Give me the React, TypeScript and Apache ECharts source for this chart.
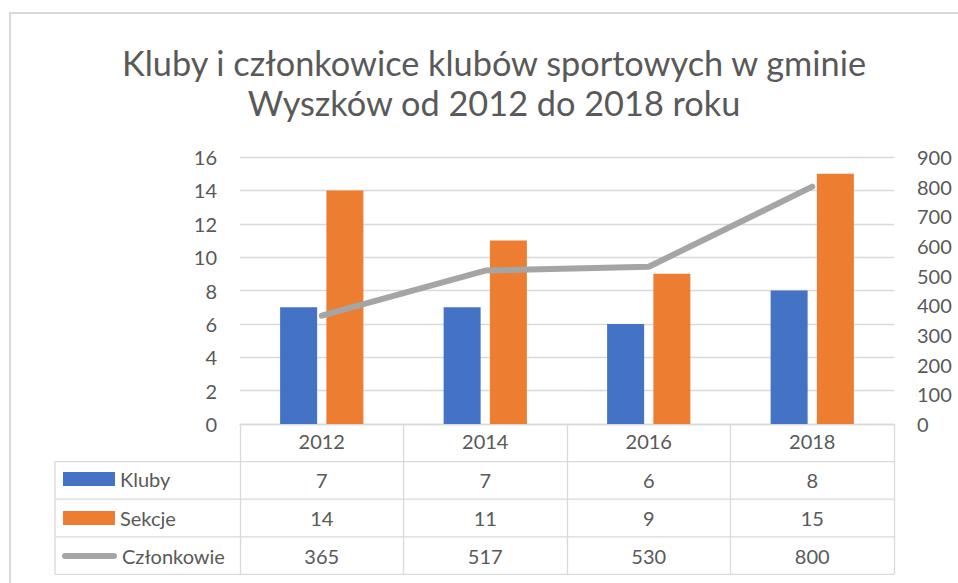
import React, { useEffect, useRef } from 'react';
import * as echarts from 'echarts';

const titleText = 'Kluby i członkowice klubów sportowych w gminie\nWyszków od 2012 do 2018 roku';
const categories = ['2012', '2014', '2016', '2018'];
const kluby = [7, 7, 6, 8];
const sekcje = [14, 11, 9, 15];
const czlonkowie = [365, 517, 530, 800];
const seriesNames = ['Kluby', 'Sekcje', 'Członkowie'];

const TEXT = '#595959';
const GRID_C = '#D9D9D9';
const FONT = 'Lato';

export default function App() {
  const ref = useRef<HTMLDivElement>(null);
  useEffect(() => {
    document.body.style.margin = '0';
    const chart = echarts.init(ref.current!, null, { renderer: 'svg' });
    const ROW_H = 37.6;
    const TABLE_LEFT = 55;
    const legendText = { fontFamily: FONT, fontSize: 20, color: TEXT, lineHeight: 20 };
    const option: any = {
      animation: false,
      textStyle: { fontFamily: FONT },
      title: {
        text: titleText,
        left: 489,
        top: 37,
        textAlign: 'center',
        textStyle: { fontFamily: FONT, fontSize: 34.3, fontWeight: 'normal', color: TEXT, lineHeight: 40 },
      },
      grid: { left: 240, right: 64, top: 157, bottom: 159, containLabel: false },
      legend: [
        {
          data: [seriesNames[0]], orient: 'vertical', left: 58, top: 464, icon: 'rect',
          itemWidth: 52, itemHeight: 14, textStyle: legendText, selectedMode: false,
        },
        {
          data: [seriesNames[1]], orient: 'vertical', left: 58, top: 503, icon: 'rect',
          itemWidth: 52, itemHeight: 14, textStyle: legendText, selectedMode: false,
        },
        {
          data: [{ name: seriesNames[2], icon: 'path://M3,0 L52,0 A3,3 0 0 1 52,6 L3,6 A3,3 0 0 1 3,0 Z' }],
          orient: 'vertical', left: 57, top: 541,
          itemWidth: 55, itemHeight: 6, textStyle: legendText, selectedMode: false,
          itemStyle: { color: '#A5A5A5', borderWidth: 0 },
        },
      ],
      xAxis: {
        type: 'category',
        data: categories,
        boundaryGap: true,
        axisLine: { show: true, lineStyle: { color: GRID_C, width: 1.3 } },
        axisTick: { show: true, length: ROW_H * 4, alignWithLabel: false, lineStyle: { color: GRID_C, width: 1.3 } },
        axisLabel: { fontFamily: FONT, fontSize: 20, color: TEXT, margin: 7 },
        splitLine: { show: false },
      },
      yAxis: [
        {
          type: 'value', min: 0, max: 16, interval: 2,
          axisLine: { show: false }, axisTick: { show: false },
          axisLabel: { fontFamily: FONT, fontSize: 20, color: TEXT, margin: 23 },
          splitLine: { show: true, lineStyle: { color: GRID_C, width: 1.3 } },
        },
        {
          type: 'value', min: 0, max: 900, interval: 100,
          axisLine: { show: false }, axisTick: { show: false },
          axisLabel: { fontFamily: FONT, fontSize: 20, color: TEXT, margin: 23 },
          splitLine: { show: false },
        },
      ],
      series: [
        { name: seriesNames[0], type: 'bar', data: kluby, yAxisIndex: 0, barWidth: 37, barGap: '25%', itemStyle: { color: '#4472C4' } },
        { name: seriesNames[1], type: 'bar', data: sekcje, yAxisIndex: 0, barWidth: 37, barGap: '25%', itemStyle: { color: '#ED7D31' } },
        {
          name: seriesNames[2], type: 'line', data: czlonkowie, yAxisIndex: 1, symbol: 'none', showSymbol: false,
          lineStyle: { color: '#A5A5A5', width: 6, cap: 'round', join: 'round' }, itemStyle: { color: '#A5A5A5' }, z: 5,
        },
      ],
    };
    chart.setOption(option);

    const xs = categories.map((c) => chart.convertToPixel({ xAxisIndex: 0 }, c) as number);
    const half = (xs[1] - xs[0]) / 2;
    const rightX = xs[xs.length - 1] + half;
    const baseY = chart.convertToPixel({ yAxisIndex: 0 }, 0) as number;
    const rows = [kluby, sekcje, czlonkowie];
    const graphics: any[] = [
      {
        type: 'rect', shape: { x: 10, y: 13, width: 2000, height: 2000 }, silent: true, z: -10,
        style: { fill: 'none', stroke: GRID_C, lineWidth: 2 },
      },
      {
        type: 'line', shape: { x1: TABLE_LEFT, y1: baseY + ROW_H, x2: TABLE_LEFT, y2: baseY + ROW_H * 4 }, silent: true,
        style: { stroke: GRID_C, lineWidth: 1.3 },
      },
    ];
    for (let r = 1; r <= 4; r++) {
      graphics.push({
        type: 'line', shape: { x1: TABLE_LEFT, y1: baseY + ROW_H * r, x2: rightX, y2: baseY + ROW_H * r }, silent: true,
        style: { stroke: GRID_C, lineWidth: 1.3 },
      });
    }
    rows.forEach((vals, ri) => {
      vals.forEach((v, ci) => {
        graphics.push({
          type: 'text', x: xs[ci], y: baseY + ROW_H * (ri + 1.5), silent: true,
          style: { text: String(v), fill: TEXT, font: `20px ${FONT}`, textAlign: 'center', textVerticalAlign: 'middle' },
        });
      });
    });
    chart.setOption({ graphic: graphics });
    return () => chart.dispose();
  }, []);
  return <div ref={ref} style={{ position: 'absolute', left: 0, top: 0, width: 958, height: 583 }} />;
}
